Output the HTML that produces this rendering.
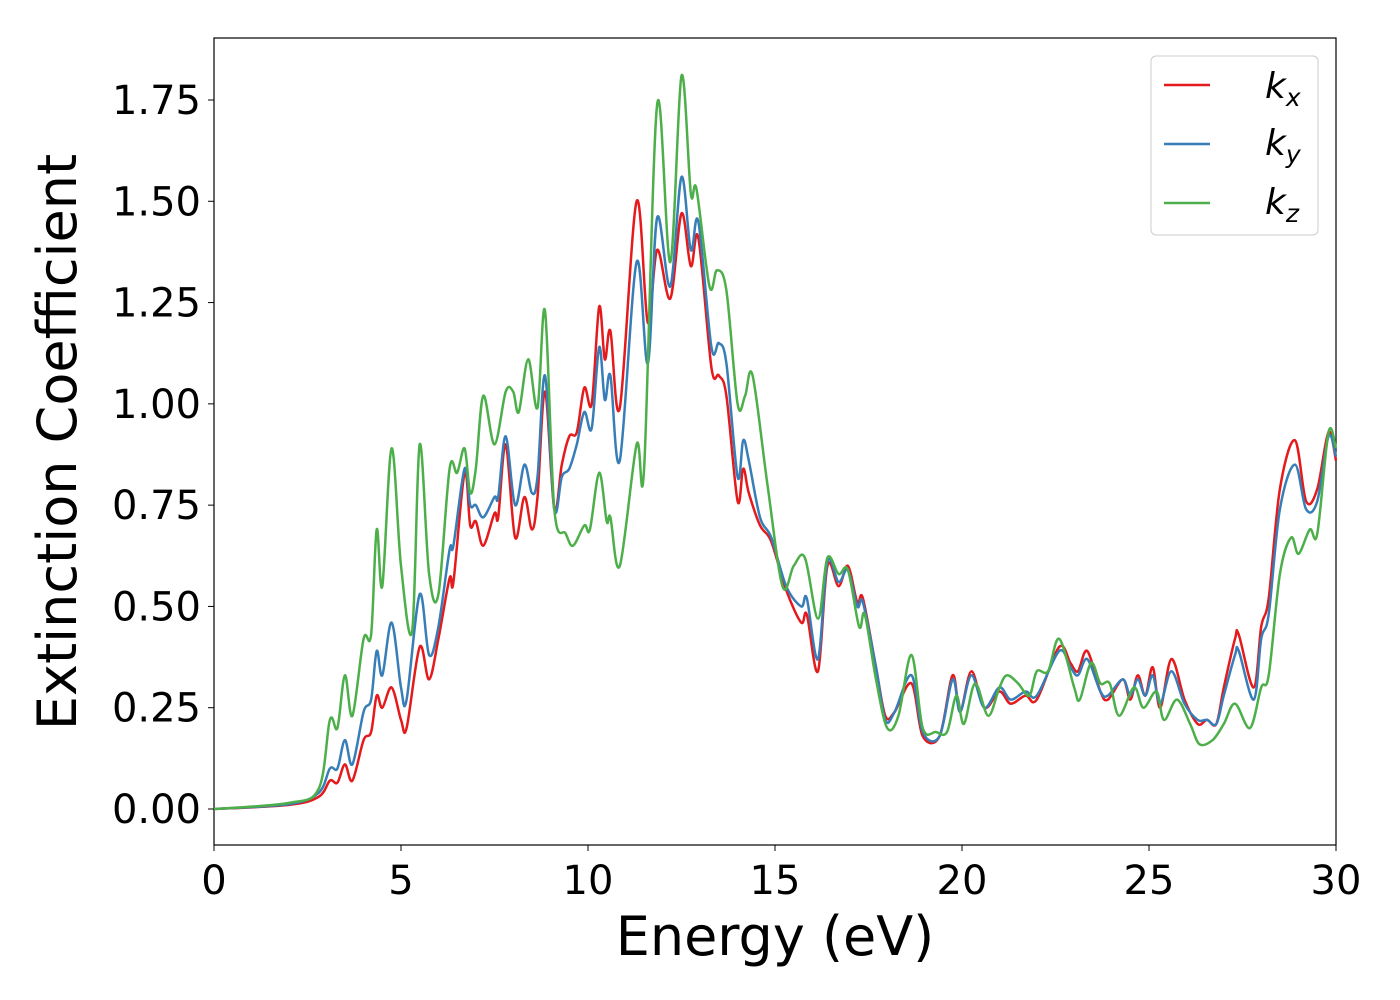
<!DOCTYPE html>
<html><head><meta charset="utf-8"><style>
html,body{margin:0;padding:0;background:#fff;}
svg{display:block;font-family:"DejaVu Sans","Liberation Sans",sans-serif;}
</style></head><body>
<svg id="chart" width="1400" height="1000">
<rect x="214" y="38" width="1122" height="807" fill="#fff" stroke="#000" stroke-width="1.2"/>
<g id="series"></g>
<g id="axes"></g>
<text x="775" y="955" font-size="54" text-anchor="middle">Energy (eV)</text>
<text transform="translate(76,442) rotate(-90)" font-size="54" text-anchor="middle">Extinction Coefficient</text>
<g>
<rect x="1151" y="56" width="167" height="179" rx="5" fill="#fff" stroke="#ccc" stroke-width="1"/>
<line x1="1164" y1="85" x2="1210" y2="85" stroke="#e41a1c" stroke-width="2.5"/>
<text x="1265" y="98" font-size="36" font-style="italic">k<tspan font-size="25" dy="8">x</tspan></text>
<line x1="1164" y1="144" x2="1210" y2="144" stroke="#377eb8" stroke-width="2.5"/>
<text x="1265" y="155" font-size="36" font-style="italic">k<tspan font-size="25" dy="8">y</tspan></text>
<line x1="1164" y1="203" x2="1210" y2="203" stroke="#4daf4a" stroke-width="2.5"/>
<text x="1265" y="214" font-size="36" font-style="italic">k<tspan font-size="25" dy="8">z</tspan></text>
</g>
</svg>
<script>
const xTicks=[0,5,10,15,20,25,30];
const yTicks=[0,0.25,0.5,0.75,1.0,1.25,1.5,1.75];
const yTickLabels=["0.00","0.25","0.50","0.75","1.00","1.25","1.50","1.75"];
const kxE=[0,2,2.8,3.1,3.3,3.5,3.7,4.0,4.2,4.35,4.5,4.75,5.0,5.15,5.5,5.75,6.0,6.3,6.4,6.7,6.85,7.0,7.2,7.5,7.6,7.8,8.05,8.3,8.5,8.65,8.85,9.1,9.3,9.5,9.7,9.9,10.1,10.3,10.45,10.6,10.85,11.3,11.6,11.85,12.2,12.5,12.75,12.95,13.3,13.5,13.7,14.0,14.15,14.3,14.6,14.9,15.3,15.7,15.85,16.15,16.4,16.7,16.95,17.2,17.35,17.7,17.95,18.2,18.65,18.95,19.4,19.75,19.95,20.25,20.6,21.0,21.3,21.7,22.0,22.6,22.9,23.1,23.35,23.7,23.9,24.3,24.5,24.7,24.9,25.1,25.3,25.6,25.95,26.3,26.55,26.8,27.0,27.3,27.4,27.8,28.0,28.2,28.5,28.9,29.2,29.5,29.8,30];
const kxV=[0,0.01,0.03,0.07,0.065,0.11,0.07,0.17,0.19,0.28,0.25,0.30,0.22,0.20,0.40,0.32,0.42,0.57,0.56,0.83,0.70,0.71,0.65,0.73,0.72,0.90,0.67,0.77,0.69,0.77,1.03,0.74,0.85,0.92,0.93,1.04,1.00,1.24,1.11,1.18,0.99,1.50,1.20,1.38,1.26,1.47,1.34,1.41,1.09,1.07,1.02,0.76,0.84,0.78,0.70,0.66,0.54,0.46,0.48,0.34,0.60,0.55,0.60,0.51,0.52,0.35,0.23,0.24,0.31,0.18,0.18,0.33,0.24,0.34,0.25,0.29,0.26,0.28,0.27,0.40,0.36,0.34,0.39,0.29,0.27,0.32,0.27,0.33,0.28,0.35,0.25,0.37,0.27,0.21,0.22,0.21,0.30,0.42,0.43,0.30,0.45,0.52,0.79,0.91,0.76,0.79,0.93,0.86];
const kyE=kxE;
const kyV=[0,0.012,0.04,0.10,0.10,0.17,0.11,0.24,0.27,0.39,0.33,0.46,0.30,0.27,0.53,0.38,0.45,0.64,0.65,0.84,0.75,0.75,0.72,0.77,0.77,0.92,0.75,0.85,0.78,0.82,1.07,0.74,0.82,0.84,0.90,0.98,0.94,1.14,1.01,1.07,0.86,1.35,1.10,1.46,1.29,1.56,1.38,1.45,1.14,1.15,1.10,0.82,0.91,0.86,0.72,0.67,0.55,0.50,0.52,0.37,0.61,0.56,0.59,0.50,0.51,0.35,0.22,0.24,0.33,0.19,0.18,0.32,0.24,0.33,0.25,0.30,0.27,0.29,0.28,0.39,0.35,0.33,0.37,0.29,0.28,0.32,0.28,0.32,0.28,0.33,0.26,0.34,0.26,0.22,0.22,0.21,0.28,0.38,0.39,0.27,0.42,0.48,0.74,0.85,0.74,0.76,0.92,0.87];
const kzE=[0,2,2.8,3.1,3.3,3.5,3.7,4.0,4.2,4.35,4.5,4.75,5.0,5.3,5.5,5.75,6.0,6.3,6.5,6.7,6.85,7.0,7.2,7.5,7.8,8.0,8.15,8.4,8.65,8.85,9.1,9.4,9.6,9.9,10.05,10.3,10.5,10.6,10.85,11.3,11.5,11.85,12.2,12.5,12.75,12.9,13.25,13.45,13.7,14.0,14.2,14.4,14.8,15.2,15.5,15.8,16.15,16.4,16.7,16.95,17.25,17.4,17.7,18.0,18.3,18.65,18.95,19.3,19.6,19.85,20.05,20.35,20.7,21.0,21.2,21.5,21.8,22.0,22.3,22.6,23.0,23.15,23.45,23.7,23.95,24.2,24.6,24.85,25.2,25.4,25.75,26.1,26.35,26.7,27.0,27.3,27.7,28.0,28.2,28.5,28.8,29.0,29.3,29.5,29.8,30];
const kzV=[0,0.015,0.05,0.22,0.20,0.33,0.23,0.42,0.43,0.69,0.55,0.89,0.60,0.44,0.90,0.58,0.53,0.84,0.83,0.89,0.78,0.84,1.02,0.90,1.03,1.03,0.98,1.11,0.99,1.23,0.74,0.68,0.65,0.70,0.69,0.83,0.71,0.72,0.60,0.90,0.84,1.74,1.35,1.81,1.52,1.53,1.29,1.33,1.28,1.00,1.02,1.07,0.80,0.55,0.60,0.62,0.47,0.62,0.58,0.59,0.45,0.48,0.32,0.20,0.23,0.38,0.20,0.19,0.19,0.28,0.21,0.31,0.23,0.30,0.33,0.31,0.28,0.34,0.34,0.42,0.30,0.27,0.36,0.31,0.31,0.23,0.30,0.25,0.29,0.22,0.27,0.21,0.16,0.17,0.21,0.26,0.20,0.30,0.33,0.58,0.67,0.63,0.69,0.68,0.93,0.89];

const NS="http://www.w3.org/2000/svg";
const X0=214,X1=1336,Y0=809,Y175=100;
function xs(e){return X0+(e-0)/30*(X1-X0);}
function ys(v){return Y0-(v/1.75)*(Y0-Y175);}
function pathFor(E,V){
  const P=E.map((e,i)=>[xs(e),ys(V[i])]);
  let d="M"+P[0][0].toFixed(1)+","+P[0][1].toFixed(1);
  for(let i=0;i<P.length-1;i++){
    const p0=P[Math.max(0,i-1)],p1=P[i],p2=P[i+1],p3=P[Math.min(P.length-1,i+2)];
    const c1=[p1[0]+(p2[0]-p0[0])/6,p1[1]+(p2[1]-p0[1])/6];
    const c2=[p2[0]-(p3[0]-p1[0])/6,p2[1]-(p3[1]-p1[1])/6];
    d+=" C"+c1[0].toFixed(1)+","+c1[1].toFixed(1)+" "+c2[0].toFixed(1)+","+c2[1].toFixed(1)+" "+p2[0].toFixed(1)+","+p2[1].toFixed(1);
  }
  return d;
}
const sg=document.getElementById("series");
[[kxE,kxV,"#e41a1c","kx"],[kyE,kyV,"#377eb8","ky"],[kzE,kzV,"#4daf4a","kz"]].forEach(s=>{
  const p=document.createElementNS(NS,"path");
  p.setAttribute("d",pathFor(s[0],s[1]));
  p.setAttribute("fill","none");p.setAttribute("stroke",s[2]);p.setAttribute("stroke-width","2.5");
  
  
  sg.appendChild(p);
});
const ag=document.getElementById("axes");
xTicks.forEach(t=>{
  const l=document.createElementNS(NS,"line");
  l.setAttribute("x1",xs(t));l.setAttribute("x2",xs(t));l.setAttribute("y1",845);l.setAttribute("y2",851);l.setAttribute("stroke","#000");
  
  
  ag.appendChild(l);
  const tx=document.createElementNS(NS,"text");
  tx.setAttribute("x",xs(t));tx.setAttribute("y",894);tx.setAttribute("font-size","40");tx.setAttribute("text-anchor","middle");
  tx.textContent=String(t);
  
  
  ag.appendChild(tx);
});
yTicks.forEach((t,i)=>{
  const l=document.createElementNS(NS,"line");
  l.setAttribute("x1",208);l.setAttribute("x2",214);l.setAttribute("y1",ys(t));l.setAttribute("y2",ys(t));l.setAttribute("stroke","#000");
  
  
  ag.appendChild(l);
  const tx=document.createElementNS(NS,"text");
  tx.setAttribute("x",201);tx.setAttribute("y",ys(t)+14);tx.setAttribute("font-size","40");tx.setAttribute("text-anchor","end");
  tx.textContent=yTickLabels[i];
  
  
  ag.appendChild(tx);
});
</script>
</body></html>
